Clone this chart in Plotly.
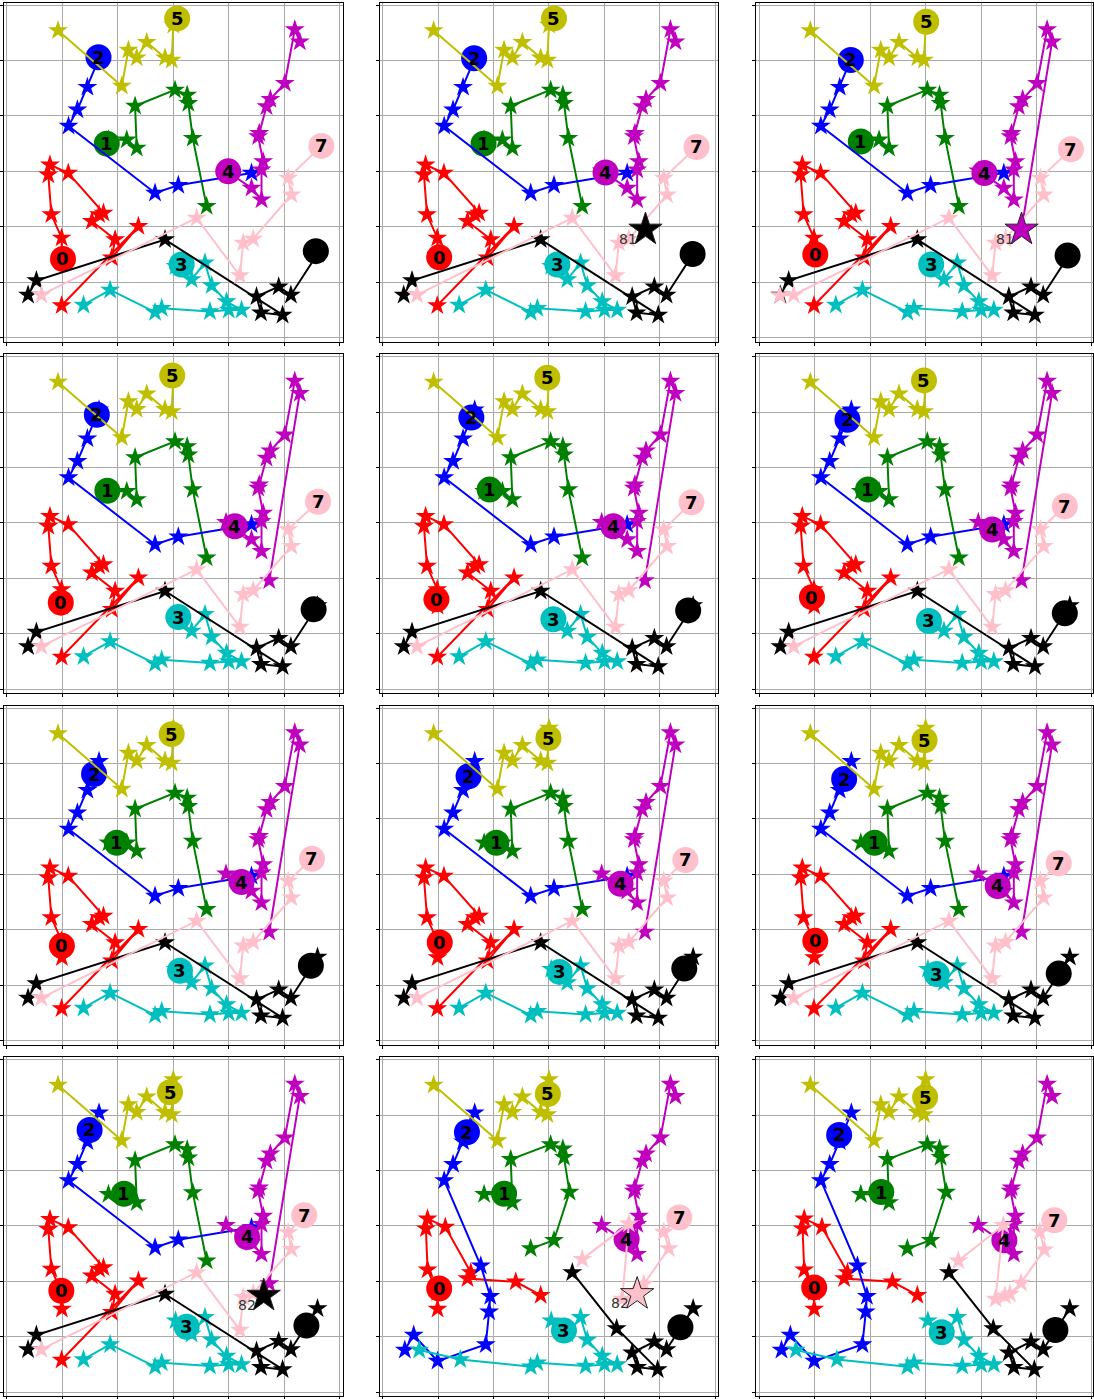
import plotly.graph_objects as go

FIG_W, FIG_H = 1094, 1399

AGENT_COLORS = ["#ff0000", "#008000", "#0000ff", "#00bfbf",
                "#bf00bf", "#bfbf00", "#000000", "#ffc0cb"]
AGENT_LABELS = ["0", "1", "2", "3", "4", "5", "6", "7"]

# starting cell of each agent (pink starts where its circle is)
start_u = [0.99, 1.83, 1.66, 3.04, 3.95, 3.00, 5.60, None]
start_v = [1.50, 3.57, 5.04, 1.29, 3.01, 5.64, 1.51, None]

# planned waypoints per agent
red_u = [0.985, 0.80, 0.745, 0.775, 1.105, 1.74, 1.66, 1.53, 1.95, 1.89, 2.37, 0.985]
red_v = [1.80, 2.22, 2.94, 3.12, 2.97, 2.25, 2.22, 2.10, 1.77, 1.44, 2.01, 0.58]
red_alt_u = [0.985, 0.81, 0.78, 0.81, 1.13, 1.59, 1.53, 2.40, 2.85]
red_alt_v = [1.80, 2.21, 2.95, 3.13, 2.98, 2.16, 2.05, 1.99, 1.75]

green_u = [2.16, 2.34, 2.31, 3.03, 3.25, 3.27, 3.35, 3.60]
green_v = [3.57, 3.42, 4.18, 4.47, 4.38, 4.23, 3.60, 2.37]
green_alt_u = [2.16, 2.34, 2.31, 3.03, 3.25, 3.27, 3.37, 3.09, 2.67]
green_alt_v = [3.57, 3.42, 4.20, 4.47, 4.39, 4.24, 3.61, 2.74, 2.59]

blue_u = [1.45, 1.27, 1.11, 2.67, 3.09, 4.41]
blue_v = [4.52, 4.11, 3.82, 2.61, 2.75, 2.97]
blue_alt_u = [1.45, 1.27, 1.11, 1.77, 1.94, 1.92, 1.86, 0.99, 0.56, 0.40]
blue_alt_v = [4.52, 4.11, 3.82, 2.28, 1.73, 1.45, 0.86, 0.56, 1.03, 0.76]

cyan_u = [3.33, 3.57, 3.69, 3.96, 4.23, 4.00, 3.66, 2.79, 2.67, 1.86, 1.38]
cyan_v = [1.05, 1.35, 0.94, 0.65, 0.50, 0.50, 0.47, 0.53, 0.46, 0.86, 0.59]
cyan_alt_u = [3.33, 3.57, 3.69, 3.96, 4.23, 4.00, 3.66, 2.79, 2.67, 1.40, 0.66]
cyan_alt_v = [1.05, 1.35, 0.94, 0.65, 0.50, 0.50, 0.47, 0.53, 0.46, 0.59, 0.76]

magenta_u = [4.41, 4.59, 4.59, 4.62, 4.53, 4.55, 4.68, 4.75, 5.01, 5.19, 5.28]
magenta_v = [2.70, 2.49, 3.03, 3.18, 3.63, 3.69, 4.17, 4.30, 4.59, 5.56, 5.34]
magenta_ext_u = magenta_u + [4.73]
magenta_ext_v = magenta_v + [1.96]

yellow_u = [2.97, 2.85, 2.52, 2.34, 2.19, 2.07, 0.92]
yellow_v = [5.01, 5.05, 5.33, 5.05, 5.19, 4.54, 5.54]

black_u = [5.12, 4.90, 4.50, 4.58, 4.97, 2.85, 0.53, 0.38]
black_v = [0.77, 0.92, 0.74, 0.45, 0.41, 1.77, 1.03, 0.77]
black_alt_u = [5.12, 4.90, 4.50, 4.59, 4.96, 4.22, 3.42]
black_alt_v = [0.77, 0.91, 0.71, 0.45, 0.41, 1.15, 2.16]

pink_u = [5.07, 5.13, 4.44, 4.26, 4.20, 3.42, 0.62]
pink_v = [2.88, 2.58, 1.78, 1.71, 1.12, 2.16, 0.77]
pink_ext_u = pink_u + [0.37]
pink_ext_v = pink_v + [0.76]
pink_alt_a_u = [5.07, 5.16, 4.71, 4.52, 4.32, 4.44, 3.60]
pink_alt_a_v = [2.89, 2.59, 1.95, 1.77, 1.68, 3.04, 2.40]
pink_alt_b_u = [5.06, 5.14, 4.72, 4.52, 4.43, 4.26, 4.40, 3.59]
pink_alt_b_v = [2.89, 2.57, 1.97, 1.77, 1.74, 1.68, 3.01, 2.37]

ROUTES = {
    "red": (red_u, red_v), "red_alt": (red_alt_u, red_alt_v),
    "green": (green_u, green_v), "green_alt": (green_alt_u, green_alt_v),
    "blue": (blue_u, blue_v), "blue_alt": (blue_alt_u, blue_alt_v),
    "cyan": (cyan_u, cyan_v), "cyan_alt": (cyan_alt_u, cyan_alt_v),
    "magenta": (magenta_u, magenta_v), "magenta_ext": (magenta_ext_u, magenta_ext_v),
    "yellow": (yellow_u, yellow_v),
    "black": (black_u, black_v), "black_alt": (black_alt_u, black_alt_v),
    "pink": (pink_u, pink_v), "pink_ext": (pink_ext_u, pink_ext_v),
    "pink_alt_a": (pink_alt_a_u, pink_alt_a_v), "pink_alt_b": (pink_alt_b_u, pink_alt_b_v),
}

_base = ["red", "green", "blue", "cyan", "magenta", "yellow", "black", "pink"]
_mid = ["red", "green", "blue", "cyan", "magenta_ext", "yellow", "black", "pink"]
_late = ["red_alt", "green_alt", "blue_alt", "cyan_alt", "magenta", "yellow", "black_alt"]
panel_routes = [
    _base, _base,
    ["red", "green", "blue", "cyan", "magenta_ext", "yellow", "black", "pink_ext"],
    _mid, _mid, _mid, _mid, _mid, _mid, _mid,
    _late + ["pink_alt_a"], _late + ["pink_alt_b"],
]

# current agent positions, one row per snapshot (agents 0..7)
circle_u = [
    [1.01, 1.80, 1.65, 3.15, 3.99, 3.07, 5.57, 5.67],
    [1.02, 1.82, 1.65, 3.15, 4.02, 3.09, 5.59, 5.66],
    [1.01, 1.83, 1.65, 3.10, 4.06, 3.01, 5.56, 5.62],
    [0.97, 1.81, 1.62, 3.09, 4.11, 2.98, 5.53, 5.61],
    [0.97, 1.93, 1.60, 3.08, 4.16, 2.97, 5.51, 5.57],
    [0.95, 1.96, 1.59, 3.06, 4.20, 2.97, 5.51, 5.51],
    [0.99, 1.98, 1.57, 3.12, 4.23, 2.97, 5.48, 5.50],
    [1.03, 2.05, 1.55, 3.19, 4.29, 2.99, 5.44, 5.46],
    [1.01, 2.08, 1.53, 3.20, 4.30, 2.98, 5.40, 5.40],
    [0.98, 2.11, 1.49, 3.24, 4.33, 2.94, 5.40, 5.36],
    [1.02, 2.19, 1.52, 3.27, 4.40, 2.98, 5.37, 5.35],
    [0.99, 2.20, 1.44, 3.29, 4.42, 2.99, 5.34, 5.32],
]
circle_v = [
    [1.42, 3.50, 5.06, 1.32, 3.00, 5.76, 1.56, 3.46],
    [1.45, 3.50, 5.04, 1.32, 2.98, 5.76, 1.51, 3.44],
    [1.50, 3.54, 5.01, 1.32, 2.97, 5.70, 1.48, 3.40],
    [1.56, 3.58, 4.95, 1.30, 2.94, 5.66, 1.44, 3.38],
    [1.62, 3.60, 4.90, 1.26, 2.94, 5.62, 1.42, 3.37],
    [1.66, 3.60, 4.86, 1.23, 2.88, 5.57, 1.37, 3.30],
    [1.71, 3.57, 4.81, 1.26, 2.86, 5.53, 1.35, 3.28],
    [1.77, 3.57, 4.77, 1.24, 2.83, 5.46, 1.30, 3.26],
    [1.80, 3.57, 4.72, 1.20, 2.79, 5.42, 1.21, 3.20],
    [1.83, 3.58, 4.73, 1.18, 2.80, 5.41, 1.20, 3.19],
    [1.87, 3.58, 4.69, 1.11, 2.76, 5.38, 1.17, 3.15],
    [1.89, 3.61, 4.64, 1.08, 2.74, 5.32, 1.12, 3.10],
]

# flagged events (big stars)
event_panel = [1, 2, 9, 10]
event_u = [4.74, 4.73, 4.63, 4.59]
event_v = [1.95, 1.95, 1.74, 1.77]
event_color = ["#000000", "#bf00bf", "#000000", "#ffc0cb"]
event_text = ["81", "81", "82", "82"]

COL_LEFT = [4, 380, 757]
ROW_TOP = [3, 355, 707, 1059]
BOX = 339
PX_PER_UNIT = 55.5
X_LO, Y_LO = -0.054, -0.07

fig = go.Figure()
layout = dict(
    width=FIG_W, height=FIG_H, margin=dict(l=0, r=0, t=0, b=0),
    paper_bgcolor="white", plot_bgcolor="white", showlegend=False,
    font=dict(family="DejaVu Sans"),
)
annotations = []

axis_style = dict(
    showgrid=True, gridcolor="#aaaaaa", gridwidth=1.3, dtick=1, tick0=0,
    showticklabels=False, zeroline=False, showline=True, mirror=True,
    linecolor="black", linewidth=1, ticks="outside", ticklen=3,
    tickcolor="black", fixedrange=True,
)

for p in range(12):
    r, c = divmod(p, 3)
    sfx = "" if p == 0 else str(p + 1)
    xa, ya = "x" + sfx, "y" + sfx
    left = COL_LEFT[c]
    right = min(left + BOX, FIG_W)
    top = ROW_TOP[r]
    layout["xaxis" + sfx] = dict(
        domain=[left / FIG_W, right / FIG_W],
        range=[X_LO, X_LO + (right - left) / PX_PER_UNIT],
        anchor=ya, **axis_style)
    layout["yaxis" + sfx] = dict(
        domain=[1 - (top + BOX) / FIG_H, 1 - top / FIG_H],
        range=[Y_LO, Y_LO + BOX / PX_PER_UNIT],
        anchor=xa, **axis_style)

    for k in range(8):
        ru, rv = ROUTES[panel_routes[p][k]]
        cu, cv = circle_u[p][k], circle_v[p][k]
        if start_u[k] is None:
            pu, pv = [cu] + ru, [cv] + rv
        else:
            pu, pv = [start_u[k]] + ru, [start_v[k]] + rv
        col = AGENT_COLORS[k]
        fig.add_trace(go.Scatter(
            x=pu, y=pv, mode="lines+markers", xaxis=xa, yaxis=ya,
            line=dict(color=col, width=2),
            marker=dict(symbol="star", size=15, color=col, line=dict(width=0)),
            hoverinfo="skip"))
        fig.add_trace(go.Scatter(
            x=[cu], y=[cv], mode="markers", xaxis=xa, yaxis=ya,
            marker=dict(symbol="circle", size=26, color=col, line=dict(width=0)),
            hoverinfo="skip"))
        annotations.append(dict(
            x=cu, y=cv, xref=xa, yref=ya, text="<b>%s</b>" % AGENT_LABELS[k],
            showarrow=False, xanchor="center", yanchor="middle",
            font=dict(family="DejaVu Sans", size=18, color="black")))

    for e in range(len(event_panel)):
        if event_panel[e] != p:
            continue
        fig.add_trace(go.Scatter(
            x=[event_u[e]], y=[event_v[e]], mode="markers", xaxis=xa, yaxis=ya,
            marker=dict(symbol="star", size=25, color=event_color[e],
                        line=dict(width=1, color="#222222")),
            hoverinfo="skip"))
        annotations.append(dict(
            x=event_u[e], y=event_v[e], xref=xa, yref=ya, text=event_text[e],
            showarrow=False, xanchor="center", yanchor="middle",
            xshift=-17, yshift=-9,
            font=dict(family="DejaVu Sans", size=14, color="#333333")))

layout["annotations"] = annotations
fig.update_layout(**layout)
fig.write_html("out.html")
